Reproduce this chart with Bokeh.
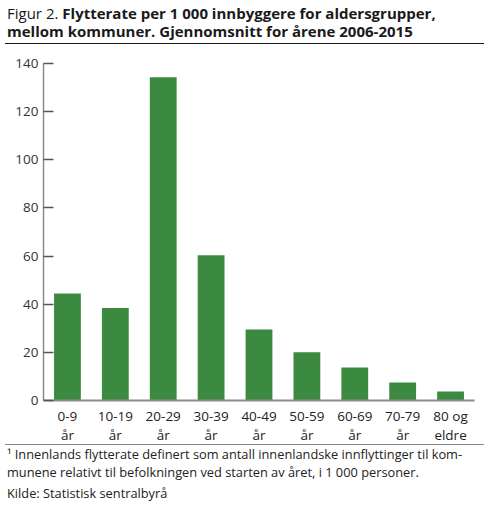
from bokeh.plotting import figure
from bokeh.models import Div, FixedTicker
from bokeh.layouts import column
from bokeh.embed import file_html
from bokeh.resources import INLINE

categories = ["0-9\når", "10-19\når", "20-29\når", "30-39\når", "40-49\når",
              "50-59\når", "60-69\når", "70-79\når", "80 og\neldre"]
values = [44.5, 38.4, 134.3, 60.3, 29.5, 20.0, 13.7, 7.5, 3.7]
y_ticks = [0, 20, 40, 60, 80, 100, 120, 140]

title_prefix = "Figur 2."
title_line1 = "Flytterate per 1 000 innbyggere for aldersgrupper,"
title_line2 = "mellom kommuner. Gjennomsnitt for årene 2006-2015"
note_line1 = "¹ Innenlands flytterate definert som antall innenlandske innflyttinger til kom-"
note_line2 = "munene relativt til befolkningen ved starten av året, i 1 000 personer."
source = "Kilde: Statistisk sentralbyrå"

FONT = "Open Sans"
W = 491

title_html = (
    f'<div style="font-family:\'{FONT}\';font-size:15px;line-height:18px;color:#1a1a1a;'
    f'margin:0 0 0 5px;width:479px;height:44px;box-sizing:border-box;padding:3.5px 0 0 2px;'
    f'border-bottom:1px solid #1a1a1a;white-space:nowrap;">'
    f'<span style="font-weight:normal">{title_prefix}</span> '
    f'<span style="font-weight:bold">{title_line1}</span><br>'
    f'<span style="font-weight:bold">{title_line2}</span></div>'
)
title_div = Div(text=title_html, width=W, height=50, margin=0)

p = figure(width=W, height=400, x_range=categories, y_range=(0, 140),
           output_backend="svg", toolbar_location=None,
           min_border_left=43, min_border_right=17, min_border_top=13, min_border_bottom=50)
p.outline_line_color = None
p.grid.grid_line_color = None
p.x_range.range_padding = 0

p.vbar(x=categories, top=values, width=0.56, color="#3c8a40", line_color=None)

ya = p.yaxis[0]
ya.ticker = FixedTicker(ticks=y_ticks)
ya.axis_line_color = "#8a8a8a"
ya.axis_line_width = 1.5
ya.major_tick_in = 10
ya.major_tick_out = 0
ya.major_tick_line_color = "#555555"
ya.major_tick_line_width = 1.5
ya.minor_tick_line_color = None
ya.major_label_text_font = FONT
ya.major_label_text_font_size = "13.5px"
ya.major_label_text_color = "#333333"
ya.major_label_standoff = 5

xa = p.xaxis[0]
xa.axis_line_color = "#8a8a8a"
xa.axis_line_width = 2
xa.major_tick_line_color = None
xa.minor_tick_line_color = None
xa.major_label_text_font = FONT
xa.major_label_text_font_size = "13.5px"
xa.major_label_text_color = "#222222"
xa.major_label_standoff = 0
xa.major_label_text_line_height = 1.1

note_html = (
    f'<div style="font-family:\'{FONT}\';font-size:12.8px;color:#222222;'
    f'margin:0 0 0 5px;width:479px;box-sizing:border-box;padding:1.3px 0 0 2px;'
    f'border-top:1px solid #8a8a8a;white-space:nowrap;">'
    f'<div style="line-height:17.5px">{note_line1}</div>'
    f'<div style="line-height:17.5px">{note_line2}</div>'
    f'<div style="line-height:17.5px;margin-top:3.3px">{source}</div></div>'
)
note_div = Div(text=note_html, width=W, height=63, margin=(-6, 0, 0, 0))

layout = column(title_div, p, note_div, spacing=0)
open("out.html", "w").write(file_html(layout, INLINE))
